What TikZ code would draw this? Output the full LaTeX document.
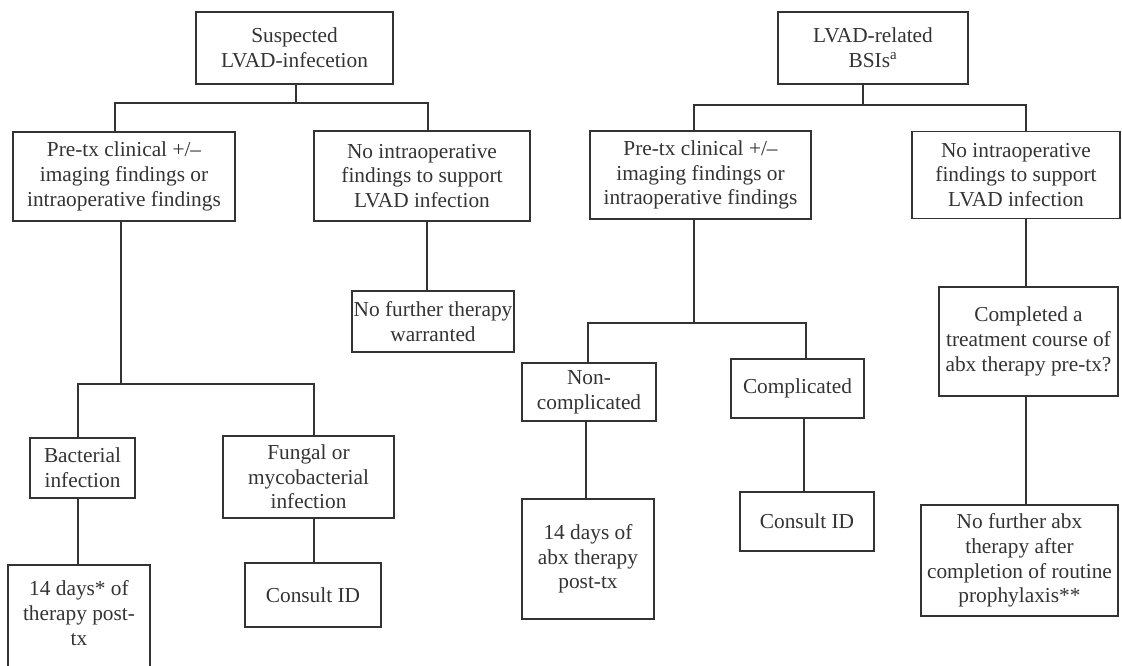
\documentclass[tikz,border=0pt]{standalone}
\usepackage{fontspec}
\setmainfont{Liberation Serif}
\usetikzlibrary{calc}
\definecolor{ink}{HTML}{333333}
\tikzset{
  box/.style={draw=ink, line width=1.2pt, text=ink, align=center, inner sep=0pt,
    font=\fontsize{16}{18.5}\selectfont},
  sz/.style 2 args={minimum width=#1*0.75pt, minimum height=#2*0.75pt},
  conn/.style={draw=ink, line width=1.2pt}
}
\begin{document}
\begin{tikzpicture}[x=0.75pt,y=-0.75pt]
\useasboundingbox (0,0) rectangle (1122,665);
% left tree
\node[box,sz={197}{72}] (A) at (294.5,48) {Suspected\\LVAD-infecetion};
\node[box,sz={222}{89}] (B) at (124,176.5) {Pre-tx clinical +/\textendash\\imaging findings or\\intraoperative findings};
\node[box,sz={216}{90}] (C) at (422,176) {No intraoperative\\findings to support\\LVAD infection};
\node[box,sz={162}{61}] (D) at (433,321.5) {No further therapy\\warranted};
\node[box,sz={105}{60}] (E) at (82.5,468) {Bacterial\\infection};
\node[box,sz={171}{82}] (F) at (308.5,477) {Fungal or\\mycobacterial\\infection};
\node[box,anchor=north,minimum width=142*0.75pt,inner ysep=12pt,text depth=60pt] (G) at (79,564) {14 days* of\\therapy post-\\tx};
\node[box,sz={136}{64}] (H) at (313,595) {Consult ID};
% right tree
\node[box,sz={190}{72}] (I) at (873,48) {LVAD-related\\BSIs\textsuperscript{a}};
\node[box,sz={221}{88}] (J) at (700.5,175) {Pre-tx clinical +/\textendash\\imaging findings or\\intraoperative findings};
\node[box,sz={208}{87}] (K) at (1016,175) {No intraoperative\\findings to support\\LVAD infection};
\node[box,sz={134}{58}] (L) at (589,392) {Non-\\complicated};
\node[box,sz={133}{59}] (M) at (797.5,388.5) {Complicated};
\node[box,sz={179}{109}] (N) at (1028.5,341.5) {Completed a\\treatment course of\\abx therapy pre-tx?};
\node[box,sz={132}{120}] (O) at (588,559) {14 days of\\abx therapy\\post-tx};
\node[box,sz={134}{59}] (P) at (807,521.5) {Consult ID};
\node[box,sz={197}{111}] (Q) at (1019.5,560.5) {No further abx\\therapy after\\completion of routine\\prophylaxis**};
% connectors left
\draw[conn] (A.south -| 296,0) -- (296,103);
\draw[conn] (B.north -| 115,0) |- (428,103) -- (C.north -| 428,0);
\draw[conn] (B.south -| 121,0) -- (121,384);
\draw[conn] (E.north -| 78,0) |- (314,384) -- (F.north -| 314,0);
\draw[conn] (C.south -| 427,0) -- (D.north -| 427,0);
\draw[conn] (E.south -| 78,0) -- (G.north -| 78,0);
\draw[conn] (F.south -| 314,0) -- (H.north -| 314,0);
% connectors right
\draw[conn] (I.south -| 863,0) -- (863,105);
\draw[conn] (J.north -| 694,0) |- (1026,105) -- (K.north -| 1026,0);
\draw[conn] (J.south -| 694,0) -- (694,323);
\draw[conn] (L.north -| 588,0) |- (806,323) -- (M.north -| 806,0);
\draw[conn] (L.south -| 586,0) -- (O.north -| 586,0);
\draw[conn] (M.south -| 804,0) -- (P.north -| 804,0);
\draw[conn] (K.south -| 1026,0) -- (N.north -| 1026,0);
\draw[conn] (N.south -| 1026,0) -- (Q.north -| 1026,0);
\end{tikzpicture}
\end{document}
